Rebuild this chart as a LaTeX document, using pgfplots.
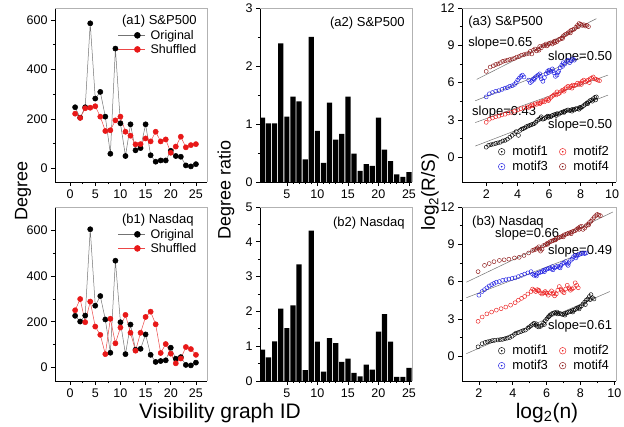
\documentclass[border=0pt]{standalone}
\usepackage{fontspec}
\setmainfont{Liberation Sans}
\usepackage{pgfplots}
\pgfplotsset{compat=1.18}
\definecolor{sred}{RGB}{232,24,24}
\definecolor{sredline}{RGB}{236,70,70}
\definecolor{mbrown}{RGB}{140,20,20}
\definecolor{mblue}{RGB}{30,30,225}
\definecolor{mred}{RGB}{235,30,30}
\tikzset{ann/.style={font=\fontsize{13}{14}\selectfont, anchor=west, inner sep=0pt}}
\pgfplotsset{
  orig/.style={
    scale only axis,
    axis x line*=bottom, axis y line*=left,
    axis line style={-, line width=0.7pt, black},
    tick align=outside,
    major tick length=4pt, minor tick length=2.2pt,
    tick style={black, line width=0.6pt},
    tick label style={font=\fontsize{12.5}{13}\selectfont},
    /pgf/number format/assume math mode=true,
    after end axis/.code={\draw[black!30, line width=0.6pt] (rel axis cs:0,1) -- (rel axis cs:1,1) -- (rel axis cs:1,0);},
  },
  degleg/.style={
    legend style={at={(rel axis cs:0.414,0.88)}, anchor=north west, draw=none, fill=none,
      font=\fontsize{12.5}{13}\selectfont, row sep=1.5pt, inner sep=0pt,
      nodes={inner sep=1pt}, /tikz/every odd column/.append style={column sep=4pt}},
    legend cell align=left,
    legend image code/.code={\draw[##1] (0pt,0pt) -- (27pt,0pt); \draw[##1, only marks, mark size=3pt] plot coordinates {(19pt,0pt)};},
  },
  motleg/.style={
    legend columns=2,
    legend style={at={(rel axis cs:0.235,0.215)}, anchor=north west, draw=none, fill=none,
      font=\fontsize{13}{14}\selectfont, row sep=1pt, inner sep=0pt,
      nodes={inner sep=1.5pt}, /tikz/every odd column/.append style={column sep=6pt},
      /tikz/every even column/.append style={column sep=10pt}},
    legend cell align=left,
    legend image code/.code={\draw[##1, mark size=3.3pt, line width=0.5pt] plot coordinates {(4pt,0pt)}; \draw[##1, mark=*, mark size=0.55pt] plot coordinates {(4pt,0pt)};},
  },
  orgline/.style={color=black!55, line width=0.5pt, mark=*, mark size=2.6pt, mark options={draw=black, fill=black}},
  shufline/.style={color=sredline, line width=0.5pt, mark=*, mark size=2.6pt, mark options={draw=sred, fill=sred}},
  mot/.style={only marks, mark=o, mark size=2pt, mark options={line width=0.45pt}},
  fit/.style={black!55, line width=0.5pt, no marks},
}
\begin{document}
\begin{tikzpicture}
\useasboundingbox (0,0) rectangle (624pt,427pt);

% ---------------- (a1)
\begin{axis}[orig, degleg, at={(55pt,245pt)}, anchor=south west, width=152pt, height=174pt,
  xmin=-3, xmax=27.2, ymin=-55, ymax=648,
  xtick={0,5,10,15,20,25}, ytick={0,200,400,600}, minor x tick num=1, minor y tick num=1]
\addplot[orgline] coordinates {(1,247)(2,205)(3,247)(4,586)(5,282)(6,309)(7,209)(8,59)(9,484)(10,182)(11,50)(12,178)(13,73)(14,82)(15,178)(16,53)(17,27)(18,32)(19,32)(20,71)(21,50)(22,47)(23,12)(24,8)(25,17)};
\addlegendentry{Original}
\addplot[shufline] coordinates {(1,221)(2,204)(3,243)(4,245)(5,251)(6,209)(7,151)(8,154)(9,194)(10,209)(11,148)(12,132)(13,97)(14,98)(15,121)(16,109)(17,148)(18,109)(19,117)(20,63)(21,88)(22,128)(23,85)(24,94)(25,98)};
\addlegendentry{Shuffled}
\node[ann] at (rel axis cs:0.44,0.925) {(a1) S\&P500};
\end{axis}

% ---------------- (b1)
\begin{axis}[orig, degleg, at={(55pt,46pt)}, anchor=south west, width=152pt, height=174pt,
  xmin=-3, xmax=27.2, ymin=-58, ymax=700,
  xtick={0,5,10,15,20,25}, ytick={0,200,400,600}, minor x tick num=1, minor y tick num=1]
\addplot[orgline] coordinates {(1,226)(2,201)(3,227)(4,603)(5,270)(6,312)(7,210)(8,65)(9,466)(10,198)(11,59)(12,188)(13,78)(14,82)(15,145)(16,56)(17,25)(18,29)(19,32)(20,87)(21,39)(22,46)(23,12)(24,10)(25,22)};
\addlegendentry{Original}
\addplot[shufline] coordinates {(1,250)(2,299)(3,198)(4,288)(5,179)(6,143)(7,59)(8,213)(9,106)(10,175)(11,230)(12,152)(13,74)(14,152)(15,221)(16,244)(17,189)(18,64)(19,103)(20,61)(21,19)(22,40)(23,90)(24,81)(25,56)};
\addlegendentry{Shuffled}
\node[ann] at (rel axis cs:0.44,0.922) {(b1) Nasdaq};
\end{axis}

% ---------------- (a2)
\begin{axis}[orig, at={(260pt,245pt)}, anchor=south west, width=152pt, height=174pt,
  xmin=0.6, xmax=25.5, ymin=0, ymax=3,
  xtick={5,10,15,20,25}, ytick={0,1,2,3}, minor x tick num=4, minor y tick num=1]
\addplot[ybar, bar width=0.85, fill=black, draw=none] coordinates {(1,1.11)(2,1.01)(3,1.01)(4,2.39)(5,1.125)(6,1.47)(7,1.39)(8,0.39)(9,2.50)(10,0.88)(11,0.33)(12,1.37)(13,0.73)(14,0.83)(15,1.47)(16,0.49)(17,0.19)(18,0.31)(19,0.28)(20,1.11)(21,0.56)(22,0.36)(23,0.13)(24,0.09)(25,0.17)};
\node[ann] at (rel axis cs:0.46,0.914) {(a2) S\&P500};
\end{axis}

% ---------------- (b2)
\begin{axis}[orig, at={(260pt,46pt)}, anchor=south west, width=152pt, height=174pt,
  xmin=0.6, xmax=25.5, ymin=0, ymax=5,
  xtick={5,10,15,20,25}, ytick={0,1,2,3,4,5}, minor x tick num=4, minor y tick num=1]
\addplot[ybar, bar width=0.85, fill=black, draw=none] coordinates {(1,0.90)(2,0.68)(3,1.14)(4,2.08)(5,1.52)(6,2.17)(7,3.35)(8,0.31)(9,4.32)(10,1.13)(11,0.27)(12,1.23)(13,1.09)(14,0.55)(15,0.64)(16,0.23)(17,0.135)(18,0.47)(19,0.33)(20,1.42)(21,1.92)(22,1.13)(23,0.12)(24,0.12)(25,0.38)};
\node[ann] at (rel axis cs:0.48,0.905) {(b2) Nasdaq};
\end{axis}

% ---------------- (a3)
\begin{axis}[orig, motleg, at={(462pt,245pt)}, anchor=south west, width=154pt, height=174pt,
  xmin=0.46, xmax=10.25, ymin=-2, ymax=12,
  xtick={2,4,6,8,10}, ytick={0,3,6,9,12}, minor x tick num=1, minor y tick num=1]
\addplot[mot, black] coordinates {(2.0,0.8)(2.15,0.95)(2.3,1.0)(2.45,1.05)(2.6,1.1)(2.75,1.15)(2.9,1.2)(3.05,1.3)(3.2,1.35)(3.35,1.45)(3.5,1.6)(3.65,1.75)(3.8,1.9)(3.9,2.05)(4.05,1.75)(4.15,2.15)(4.25,2.25)(4.35,2.3)(4.45,2.35)(4.55,2.45)(4.65,2.5)(4.75,2.55)(4.85,2.6)(4.95,2.65)(5.05,2.7)(5.15,2.8)(5.25,2.95)(5.35,3.05)(5.45,3.15)(5.5,3.25)(5.6,3.05)(5.7,3.1)(5.8,3.2)(5.9,3.3)(6.0,3.3)(6.1,3.25)(6.2,3.35)(6.3,3.4)(6.4,3.45)(6.5,3.5)(6.6,3.45)(6.7,3.55)(6.8,3.6)(6.9,3.65)(7.0,3.7)(7.1,3.75)(7.2,3.8)(7.3,3.75)(7.4,3.8)(7.5,3.85)(7.6,3.8)(7.7,3.9)(7.8,3.9)(7.9,3.85)(8.0,3.95)(8.1,4.05)(8.2,4.15)(8.3,4.25)(8.4,4.35)(8.5,4.45)(8.6,4.55)(8.7,4.6)(8.8,4.7)(8.9,4.8)(9.0,4.85)(8.95,4.6)(8.75,4.5)(8.45,4.3)(7.95,4.0)(7.45,3.7)(6.95,3.6)(6.45,3.35)(5.95,3.2)};
\addlegendentry{motif1}
\addplot[mot, mred] coordinates {(2.0,2.8)(2.2,3.05)(2.4,3.15)(2.6,3.25)(2.8,3.3)(3.0,3.4)(3.2,3.45)(3.4,3.55)(3.6,3.6)(3.8,3.7)(4.0,3.8)(4.2,3.9)(4.4,3.95)(4.6,4.05)(4.7,4.0)(4.8,4.1)(4.9,4.2)(5.0,4.15)(5.1,4.3)(5.2,4.25)(5.3,4.35)(5.4,4.3)(5.5,4.45)(5.6,4.5)(5.7,4.45)(5.8,4.6)(5.9,4.7)(6.0,4.65)(6.1,4.8)(6.2,4.9)(6.3,5.0)(6.4,5.1)(6.5,5.25)(6.6,5.1)(6.7,5.2)(6.8,5.35)(6.9,5.4)(7.0,5.5)(7.1,5.6)(7.2,5.7)(7.3,5.6)(7.4,5.7)(7.5,5.8)(7.6,5.75)(7.7,5.8)(7.8,5.95)(7.9,5.85)(8.0,5.95)(8.1,6.1)(8.2,6.2)(8.3,6.05)(8.4,6.15)(8.5,6.2)(8.6,6.3)(8.7,6.35)(8.8,6.45)(8.9,6.3)(9.0,6.25)(9.1,6.2)(9.2,6.15)(8.55,6.0)(8.05,5.85)(7.45,5.55)(6.95,5.3)(6.45,5.0)(5.95,4.55)(5.45,4.35)};
\addlegendentry{motif2}
\addplot[mot, mblue] coordinates {(2.0,4.85)(2.2,5.1)(2.4,5.2)(2.6,5.3)(2.8,5.35)(3.0,5.45)(3.2,5.55)(3.35,5.6)(3.5,5.7)(3.65,5.75)(3.8,5.85)(3.9,6.0)(4.0,6.2)(4.1,6.35)(4.2,6.5)(4.3,6.6)(4.4,6.45)(4.7,6.2)(4.8,6.0)(4.9,6.1)(5.0,6.3)(5.1,6.4)(5.2,6.5)(5.3,6.6)(5.4,6.7)(5.5,6.3)(5.6,6.1)(5.7,6.4)(5.8,6.7)(5.9,6.9)(6.0,7.0)(6.1,6.9)(6.2,7.1)(6.3,6.8)(6.4,6.5)(6.5,6.6)(6.6,6.9)(6.7,7.2)(6.8,7.4)(6.9,7.6)(7.0,7.5)(7.1,7.7)(7.2,7.8)(7.3,7.6)(7.4,7.75)(7.5,7.9)(7.6,7.8)(6.85,7.3)(6.55,6.8)(6.25,6.95)(5.95,6.8)(5.45,6.5)(5.05,6.25)};
\addlegendentry{motif3}
\addplot[mot, mbrown] coordinates {(2.0,6.9)(2.25,7.25)(2.45,7.35)(2.6,7.45)(2.75,7.5)(2.9,7.6)(3.05,7.7)(3.2,7.75)(3.35,7.8)(3.5,7.85)(3.65,7.9)(3.8,7.95)(3.95,8.05)(4.1,8.1)(4.25,8.2)(4.4,8.25)(4.55,8.3)(4.7,8.35)(4.8,8.5)(4.9,8.3)(5.0,8.6)(5.1,8.7)(5.2,8.55)(5.3,8.7)(5.4,8.9)(5.5,8.8)(5.6,8.95)(5.7,9.0)(5.8,9.1)(5.9,9.0)(6.0,9.15)(6.1,9.2)(6.2,9.1)(6.3,9.3)(6.4,9.35)(6.5,9.3)(6.6,9.45)(6.7,9.5)(6.8,9.6)(6.9,9.75)(7.0,9.85)(7.1,9.9)(7.2,10.0)(7.3,10.1)(7.4,10.2)(7.5,10.25)(7.6,10.3)(7.7,10.45)(7.8,10.6)(7.9,10.75)(8.0,10.7)(8.1,10.6)(8.2,10.65)(8.3,10.55)(8.4,10.6)(8.5,10.5)(7.85,10.5)(7.35,10.0)(6.85,9.55)(6.35,9.2)(5.85,8.95)(5.35,8.6)};
\addlegendentry{motif4}
\addplot[fit, forget plot] coordinates {(1.3,0.89)(9.74,4.99)};
\addplot[fit, forget plot] coordinates {(1.3,2.78)(9.74,6.6)};
\addplot[fit, forget plot] coordinates {(1.3,4.53)(8.27,8.09)};
\addplot[fit, forget plot] coordinates {(1.4,6.26)(9.0,11.14)};
\node[ann] at (rel axis cs:0.04,0.92) {(a3) S\&P500};
\node[ann] at (rel axis cs:0.04,0.80) {slope=0.65};
\node[ann] at (rel axis cs:0.558,0.718) {slope=0.50};
\node[ann] at (rel axis cs:0.065,0.40) {slope=0.43};
\node[ann] at (rel axis cs:0.558,0.328) {slope=0.50};
\end{axis}

% ---------------- (b3)
\begin{axis}[orig, motleg, at={(462pt,46pt)}, anchor=south west, width=154pt, height=174pt,
  xmin=1, xmax=10.1, ymin=-2, ymax=12,
  xtick={2,4,6,8,10}, ytick={0,3,6,9,12}, minor x tick num=1, minor y tick num=1]
\addplot[mot, black] coordinates {(1.95,0.75)(2.19,1.0)(2.37,1.1)(2.51,1.15)(2.65,1.2)(2.79,1.25)(2.93,1.27)(3.12,1.3)(3.26,1.33)(3.40,1.35)(3.54,1.4)(3.68,1.45)(3.82,1.5)(3.96,1.6)(4.10,1.75)(4.19,1.85)(4.33,1.9)(4.47,1.97)(4.61,2.05)(4.75,2.1)(4.89,2.25)(4.98,2.35)(5.08,2.45)(5.17,2.55)(5.26,2.65)(5.36,2.5)(5.45,2.4)(5.54,2.35)(5.64,2.4)(5.73,2.5)(5.82,2.65)(5.92,2.85)(6.01,3.0)(6.10,3.15)(6.20,3.3)(6.29,3.4)(6.38,3.45)(6.47,3.5)(6.57,3.45)(6.66,3.4)(6.75,3.45)(6.85,3.4)(6.94,3.35)(7.03,3.4)(7.13,3.45)(7.22,3.5)(7.31,3.55)(7.41,3.6)(7.50,3.65)(7.59,3.7)(7.69,3.75)(7.78,3.85)(7.87,3.9)(7.97,3.95)(8.06,4.05)(8.15,4.2)(8.25,4.35)(8.34,4.5)(8.43,4.6)(8.53,4.8)(8.62,4.95)(8.71,4.7)(8.80,4.6)(8.57,4.55)(8.29,4.15)(7.92,3.8)(7.55,3.55)(7.08,3.3)(6.61,3.55)(6.15,3.2)(5.87,2.55)(5.40,2.6)};
\addlegendentry{motif1}
\addplot[mot, mred] coordinates {(1.95,2.8)(2.19,3.15)(2.47,3.4)(2.75,3.55)(3.03,3.7)(3.31,3.82)(3.59,3.95)(3.87,4.1)(4.14,4.3)(4.33,4.5)(4.52,4.65)(4.70,4.8)(4.89,5.0)(5.08,5.2)(5.17,5.4)(5.26,5.3)(5.36,5.2)(5.45,5.35)(5.54,5.3)(5.64,5.1)(5.73,5.0)(5.82,5.1)(5.92,5.2)(6.01,5.05)(6.10,4.9)(6.20,5.1)(6.29,5.25)(6.38,5.0)(6.47,4.85)(6.57,5.0)(6.66,5.3)(6.75,5.6)(6.85,5.4)(6.94,5.2)(7.03,5.1)(7.13,5.4)(7.22,5.7)(7.31,5.5)(7.41,5.3)(7.50,5.4)(7.59,5.5)(7.69,5.9)(7.78,5.7)(7.87,5.5)(7.36,5.4)(6.89,5.3)(6.43,5.1)(5.96,5.1)(5.50,5.25)};
\addlegendentry{motif2}
\addplot[mot, mblue] coordinates {(2.0,4.9)(2.19,5.2)(2.33,5.35)(2.47,5.5)(2.61,5.65)(2.75,5.75)(2.89,5.85)(3.03,5.95)(3.21,6.0)(3.40,6.1)(3.59,6.15)(3.77,6.2)(3.96,6.25)(4.14,6.3)(4.33,6.4)(4.52,6.5)(4.70,6.6)(4.89,6.7)(5.08,6.8)(5.17,6.6)(5.26,6.5)(5.36,6.55)(5.45,6.65)(5.54,6.7)(5.64,6.75)(5.73,6.8)(5.82,6.9)(5.92,6.95)(6.01,7.0)(6.10,7.05)(6.20,7.1)(6.29,7.0)(6.38,6.95)(6.47,7.1)(6.57,7.2)(6.66,7.25)(6.75,7.15)(6.85,7.3)(6.94,7.45)(7.03,7.5)(7.13,7.6)(7.22,7.4)(7.31,7.5)(7.41,7.7)(7.50,7.8)(7.59,8.0)(7.69,8.1)(7.78,8.05)(7.87,8.15)(7.97,8.2)(8.06,8.25)(8.15,8.3)(8.25,8.25)(8.34,8.3)(7.73,7.9)(7.27,7.3)(6.80,7.1)(6.34,7.2)(5.87,6.8)(5.40,6.45)};
\addlegendentry{motif3}
\addplot[mot, mbrown] coordinates {(1.95,6.8)(2.33,7.3)(2.61,7.45)(2.89,7.6)(3.21,7.7)(3.49,7.75)(3.77,7.8)(4.10,7.9)(4.38,7.95)(4.66,8.1)(4.94,8.3)(5.17,8.5)(5.26,8.55)(5.36,8.6)(5.45,8.7)(5.54,8.8)(5.64,8.45)(5.73,8.6)(5.82,8.9)(5.92,8.95)(6.01,9.05)(6.10,9.1)(6.20,9.2)(6.29,9.25)(6.38,9.3)(6.47,9.35)(6.57,9.45)(6.66,9.5)(6.75,9.55)(6.85,9.6)(6.94,9.65)(7.03,9.75)(7.13,9.8)(7.22,9.85)(7.31,9.9)(7.41,9.95)(7.50,10.0)(7.59,10.05)(7.69,10.1)(7.78,10.2)(7.87,10.3)(7.97,10.4)(8.06,10.45)(8.15,10.2)(8.25,10.3)(8.34,10.5)(8.43,10.6)(8.53,10.75)(8.62,10.85)(8.71,11.0)(8.80,11.15)(8.90,11.3)(8.99,11.4)(9.08,11.35)(9.18,11.3)(8.48,10.55)(7.92,10.2)(7.45,9.85)(6.99,9.6)(6.52,9.35)(6.06,9.0)(5.59,8.6)};
\addlegendentry{motif4}
\addplot[fit, forget plot] coordinates {(1.26,0.2)(9.74,5.2)};
\addplot[fit, forget plot] coordinates {(1.26,4.7)(8.25,8.35)};
\addplot[fit, forget plot] coordinates {(1.26,5.95)(9.92,11.6)};
\node[ann] at (rel axis cs:0.065,0.912) {(b3) Nasdaq};
\node[ann] at (rel axis cs:0.214,0.843) {slope=0.66};
\node[ann] at (rel axis cs:0.558,0.745) {slope=0.49};
\node[ann] at (rel axis cs:0.558,0.314) {slope=0.61};
\end{axis}

% ---------------- axis titles
\node[rotate=90, font=\fontsize{18}{18}\selectfont] at (23pt,236pt) {Degree};
\node[rotate=90, font=\fontsize{18}{18}\selectfont] at (226pt,237pt) {Degree ratio};
\node[rotate=90, font=\fontsize{19}{19}\selectfont] at (430pt,235pt) {log\textsubscript{2}(R/S)};
\node[font=\fontsize{21}{21}\selectfont] at (220pt,14pt) {Visibility graph ID};
\node[font=\fontsize{21}{21}\selectfont] at (547pt,14pt) {log\textsubscript{2}(n)};
\end{tikzpicture}
\end{document}
